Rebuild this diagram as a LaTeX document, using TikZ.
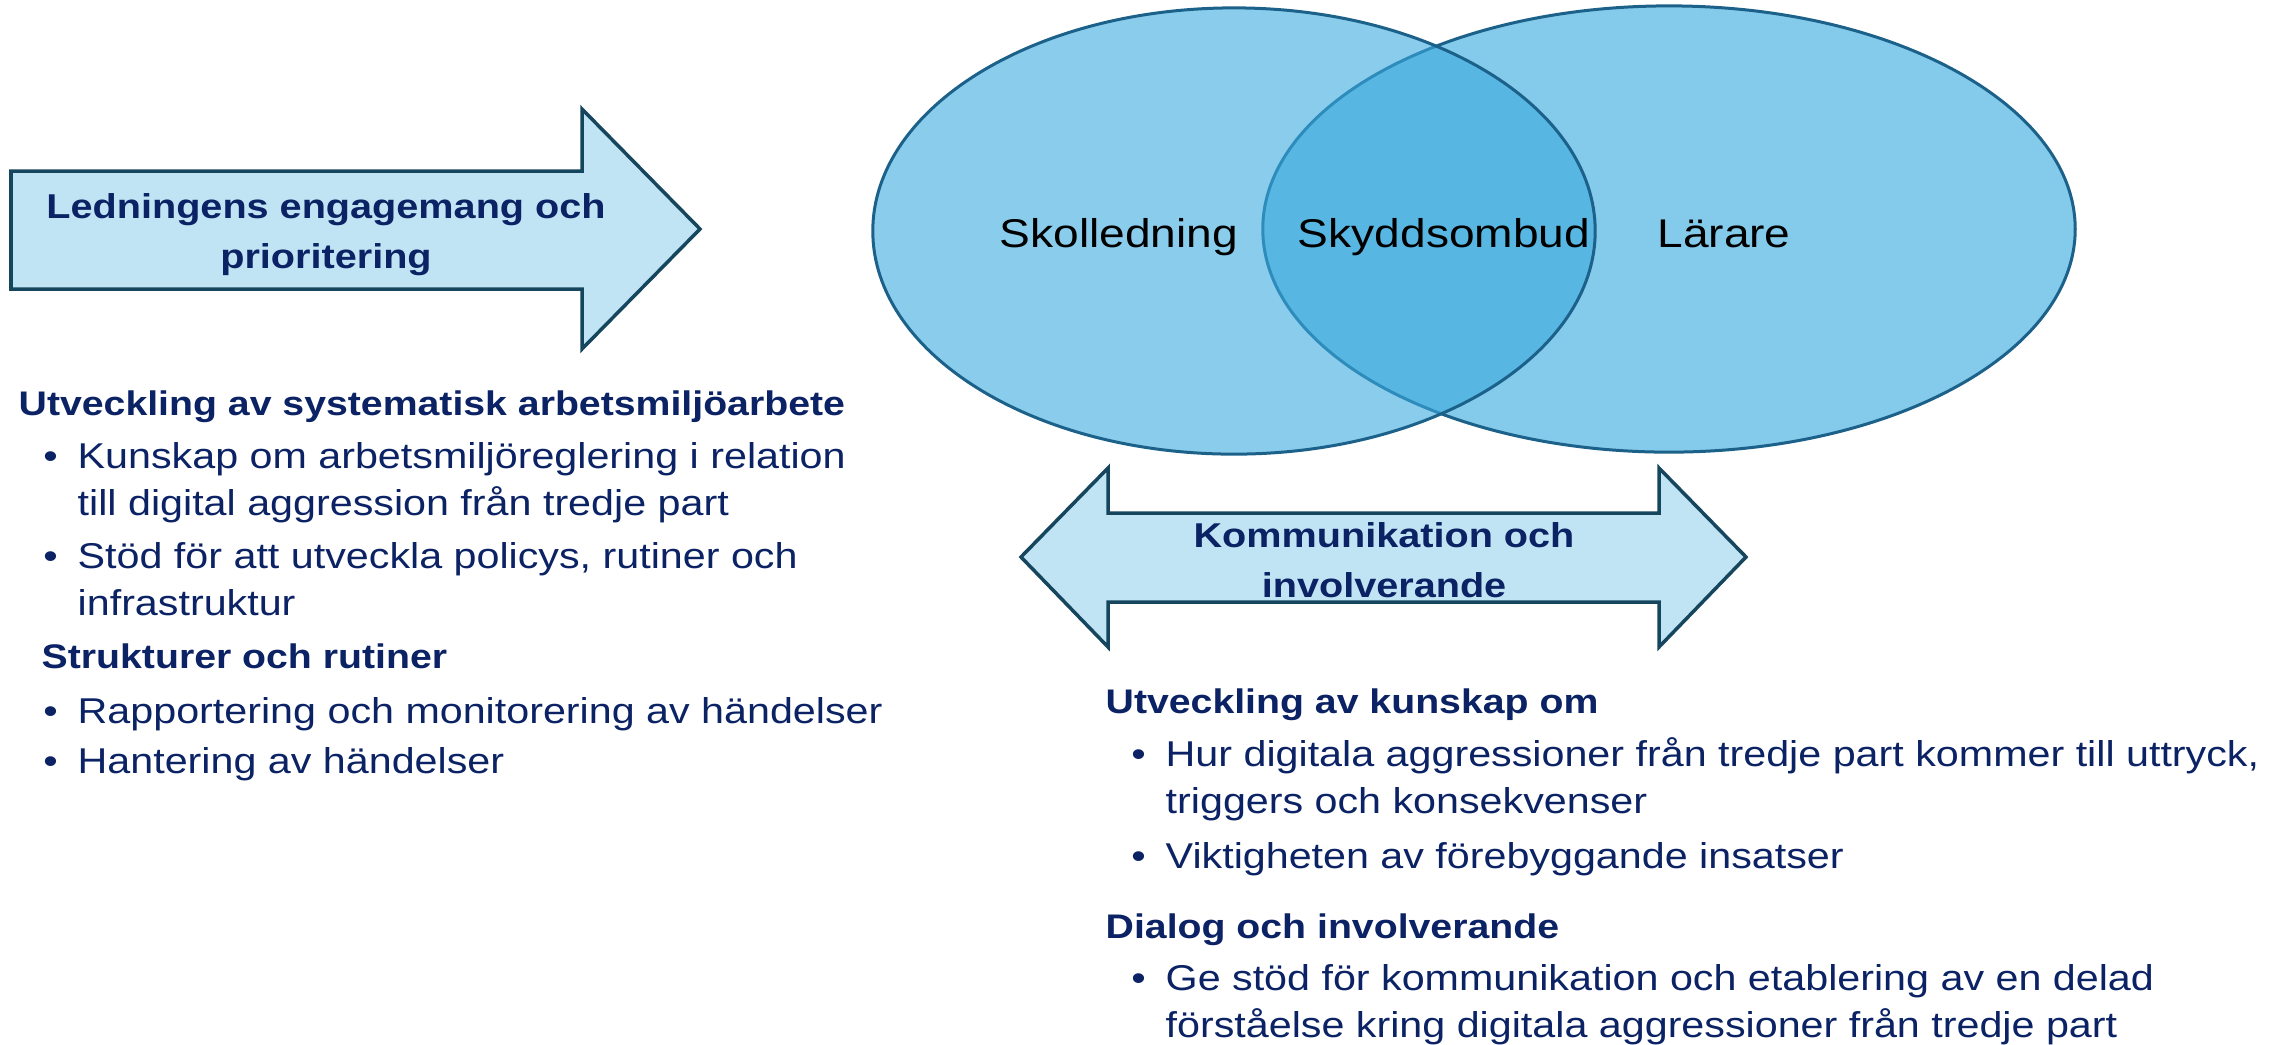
\documentclass[tikz,border=0pt]{standalone}
\usepackage{fontspec}
\setmainfont{Liberation Sans}[FakeStretch=1.15]
\usetikzlibrary{shapes.geometric,positioning}

\definecolor{navy}{HTML}{0B2264}
\definecolor{pilfyll}{HTML}{C1E4F5}
\definecolor{pilkant}{HTML}{16465E}
\definecolor{ringkant}{HTML}{1B6189}
\definecolor{ringh}{HTML}{84CAEA}
\definecolor{ringv}{RGB}{60,170,222}

\newcommand{\punkt}{\llap{\textbullet\hspace{0.2cm}}}

\begin{document}
\begin{tikzpicture}[x=0.01cm, y=-0.01cm,
    pil/.style={draw=pilkant, fill=pilfyll, line width=0.035cm, line join=miter},
    piltext/.style={anchor=base, align=center, text=navy, inner sep=0pt, font=\fontsize{9.8}{14.1}\selectfont\bfseries},
    ring/.style={ellipse, draw=ringkant, line width=0.03cm, inner sep=0pt, minimum height=4.46cm},
    ringtext/.style={anchor=base, inner sep=0pt, font=\fontsize{11.4}{13}\selectfont},
    rubrik/.style={anchor=base west, text=navy, inner sep=0pt, font=\fontsize{9.7}{13.1}\selectfont\bfseries},
    punktlista/.style={anchor=base west, align=left, text=navy, inner sep=0pt, font=\fontsize{10.2}{13.1}\selectfont}
]
    \useasboundingbox (0,0) rectangle (2290,1044);

    % Pilar
    \draw[pil] (11,171) -- (582,171) -- (582,109) -- (700,229) -- (582,349) -- (582,289) -- (11,289) -- cycle;
    \node[piltext] (ledning) at (326,268) {Ledningens engagemang och\\prioritering};

    \draw[pil] (1021,557) -- (1108,468) -- (1108,513) -- (1659,513) -- (1659,468) -- (1746,557)
        -- (1659,647) -- (1659,602) -- (1108,602) -- (1108,647) -- cycle;
    \node[piltext] (kommunikation) at (1384,597) {Kommunikation och\\involverande};

    % Venndiagram
    \node[ring, fill=ringh, minimum width=8.12cm] (larare) at (1669,229) {};
    \node[ring, fill=ringv, fill opacity=0.6, minimum width=7.22cm] (skolledning) at (1234,231) {};

    \node[ringtext] (t-skol) at (1119,247) {Skolledning};
    \node[ringtext] (t-skydd) at (1444,247) {Skyddsombud};
    \node[ringtext] (t-larare) at (1724,247) {Lärare};

    % Vänster kolumn
    \node[rubrik] (sam) at (18,415) {Utveckling av systematisk arbetsmiljöarbete};
    \node[punktlista] (kunskap) at (77,515) {\punkt Kunskap om arbetsmiljöreglering i relation\\till digital aggression från tredje part};
    \node[punktlista] (stod) at (77,615) {\punkt Stöd för att utveckla policys, rutiner och\\infrastruktur};
    \node[rubrik] (struktur) at (41,668) {Strukturer och rutiner};
    \node[punktlista] (rapport) at (77,723) {\punkt Rapportering och monitorering av händelser};
    \node[punktlista] (hantering) at (77,773) {\punkt Hantering av händelser};

    % Höger kolumn
    \node[rubrik] (kunskapom) at (1105,713) {Utveckling av kunskap om};
    \node[punktlista] (hur) at (1165,813) {\punkt Hur digitala aggressioner från tredje part kommer till uttryck,\\triggers och konsekvenser};
    \node[punktlista] (vikt) at (1165,868) {\punkt Viktigheten av förebyggande insatser};
    \node[rubrik] (dialog) at (1105,938) {Dialog och involverande};
    \node[punktlista] (ge) at (1165,1037) {\punkt Ge stöd för kommunikation och etablering av en delad\\förståelse kring digitala aggressioner från tredje part};

\end{tikzpicture}
\end{document}
